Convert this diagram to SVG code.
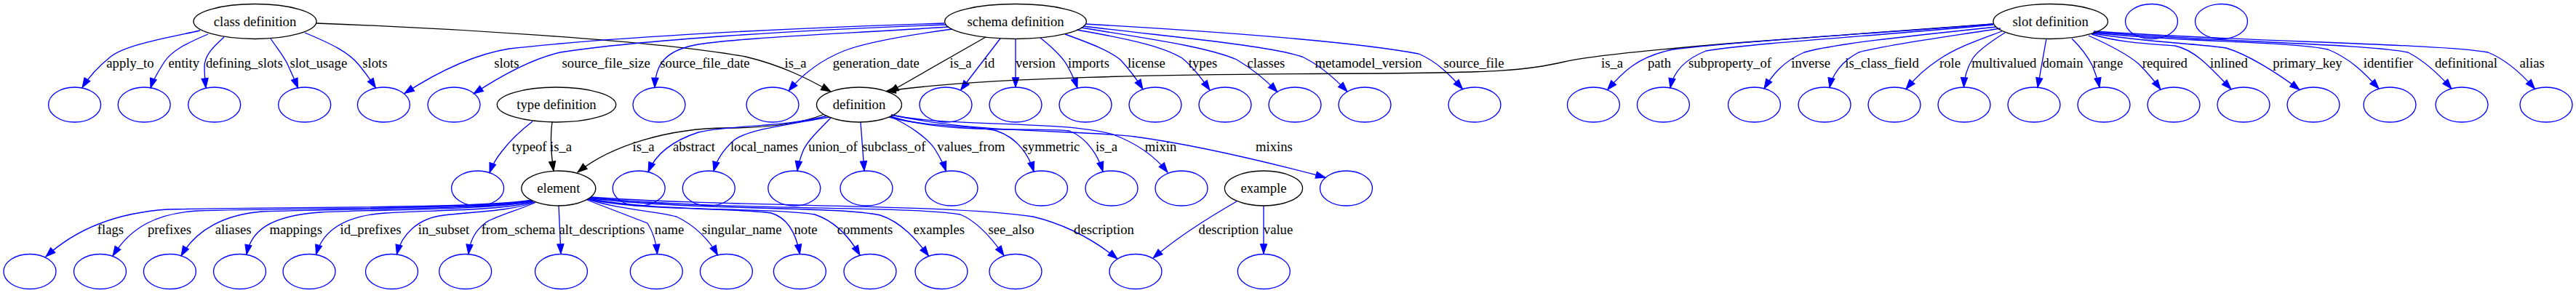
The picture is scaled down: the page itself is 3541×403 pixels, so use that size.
<svg xmlns="http://www.w3.org/2000/svg" width="3541" height="403" viewBox="0 0 3541 403">
<defs>
<marker id="ab" markerUnits="userSpaceOnUse" markerWidth="16" markerHeight="12" refX="13.3" refY="4.67" orient="auto" overflow="visible"><path d="M0,0 L13.3,4.67 L0,9.33 Z" fill="#0000ff" stroke="#0000ff" stroke-width="1"/></marker>
<marker id="ak" markerUnits="userSpaceOnUse" markerWidth="16" markerHeight="12" refX="13.3" refY="4.67" orient="auto" overflow="visible"><path d="M0,0 L13.3,4.67 L0,9.33 Z" fill="#000000" stroke="#000000" stroke-width="1"/></marker>
</defs>
<style>
ellipse{fill:none;stroke-width:1.33}
.blank ellipse{stroke:#0000ff}
.named ellipse{stroke:#000000}
text{font-family:"Liberation Serif","Times New Roman",serif;font-size:18.67px;fill:#000000;text-anchor:middle}
.e path{fill:none;stroke-width:1.33}
.b path{stroke:#0000ff;marker-end:url(#ab)}
.k path{stroke:#000000;marker-end:url(#ak)}
</style>
<rect width="3541" height="403" fill="#ffffff"/>

<g id="connectors">
<!-- class definition -->
<g class="e b"><path d="M275,42 C225,53 172,62 152,78 C136,91 122,106 113,120.5"/><text x="179" y="93">apply_to</text></g>
<g class="e b"><path d="M286,47 C255,60 236,70 226,85 C218,98 211,108 207,121"/><text x="252.8" y="93">entity</text></g>
<g class="e b"><path d="M308,51 C295,63 281,75 281,92 C281,102 282,112 283,121"/><text x="335.8" y="93">defining_slots</text></g>
<g class="e b"><path d="M372,53 C382,68 392,80 396,90 C401,101 406,112 409.5,121"/><text x="437.8" y="93">slot_usage</text></g>
<g class="e b"><path d="M419,45 C455,60 480,72 494,90 C503,101 510,111 516.5,121"/><text x="515.3" y="93">slots</text></g>
<g class="e k"><path d="M435,32 C600,38 900,55 1025,78 C1075,90 1110,108 1142,126"/><text x="1093.5" y="93">is_a</text></g>
<!-- schema definition -->
<g class="e b"><path d="M1298,32 C1100,38 850,50 700,67 C650,75 600,100 556,128.5"/><text x="696.3" y="93">slots</text></g>
<g class="e b"><path d="M1301,34 C1100,41 880,55 770,72 C735,80 695,100 651,129"/><text x="833.2" y="93">source_file_size</text></g>
<g class="e b"><path d="M1304,37 C1150,47 1000,53 955,62 C915,70 901,88 900,120.5"/><text x="969" y="93">source_file_date</text></g>
<g class="e b"><path d="M1309,40 C1250,48 1190,58 1160,70 C1130,82 1105,100 1084,125"/><text x="1204.3" y="93">generation_date</text></g>
<g class="e k"><path d="M1355,51 L1222,127"/><text x="1320.5" y="93">is_a</text></g>
<g class="e b"><path d="M1375,53 L1320.5,124"/><text x="1360" y="93">id</text></g>
<g class="e b"><path d="M1396,53 L1396,120"/><text x="1423.5" y="93">version</text></g>
<g class="e b"><path d="M1430,52 C1450,68 1462,80 1468,92 C1474,103 1478,112 1481,121"/><text x="1496.5" y="93">imports</text></g>
<g class="e b"><path d="M1464,47 C1500,60 1525,70 1540,82 C1552,95 1562,108 1571,122.7"/><text x="1576" y="93">license</text></g>
<g class="e b"><path d="M1480,41 C1560,55 1600,65 1625,80 C1640,92 1652,108 1663,124"/><text x="1653.5" y="93">types</text></g>
<g class="e b"><path d="M1486,38 C1590,55 1660,65 1700,82 C1722,95 1740,110 1756,126.6"/><text x="1740.4" y="93">classes</text></g>
<g class="e b"><path d="M1489,36 C1620,52 1740,62 1790,78 C1815,90 1835,108 1852,126"/><text x="1881" y="93">metamodel_version</text></g>
<g class="e b"><path d="M1492,33 C1650,42 1850,55 1950,74 C1975,84 1995,105 2010.5,122.5"/><text x="2026" y="93">source_file</text></g>
<!-- slot definition -->
<g class="e k"><path d="M2740,33 L2400,58 C2250,70 2180,78 2150,85 C2100,97 2050,100 1900,101 C1600,102 1350,106 1218,125.5"/><text x="2216" y="93">is_a</text></g>
<g class="e b"><path d="M2740,33 C2600,45 2400,55 2300,68 C2250,78 2230,100 2209.5,123.6"/><text x="2281" y="93">path</text></g>
<g class="e b"><path d="M2740,34 C2600,48 2420,58 2345,70 C2315,82 2300,100 2296,121"/><text x="2378" y="93">subproperty_of</text></g>
<g class="e b"><path d="M2744,37 C2640,48 2520,60 2480,72 C2450,85 2435,105 2425,122"/><text x="2489.2" y="93">inverse</text></g>
<g class="e b"><path d="M2750,39 C2680,50 2590,62 2555,72 C2530,85 2518,105 2515,120.5"/><text x="2587.1" y="93">is_class_field</text></g>
<g class="e b"><path d="M2752,43 C2720,55 2690,65 2665,82 C2645,95 2632,108 2620,122.5"/><text x="2680.5" y="93">role</text></g>
<g class="e b"><path d="M2756,45 C2740,55 2720,68 2712,80 C2703,95 2700,108 2699.5,120"/><text x="2754.8" y="93">multivalued</text></g>
<g class="e b"><path d="M2813,53 L2801,120.3"/><text x="2835.5" y="93">domain</text></g>
<g class="e b"><path d="M2848,53 C2860,65 2870,78 2876,90 C2880,100 2884,110 2886,120.3"/><text x="2897.5" y="93">range</text></g>
<g class="e b"><path d="M2871,49 C2900,62 2925,75 2940,88 C2952,100 2962,112 2970,123"/><text x="2975.8" y="93">required</text></g>
<g class="e b"><path d="M2875,47 C2910,58 2950,60 2990,63 C3020,70 3040,95 3067,122.6"/><text x="3064" y="93">inlined</text></g>
<g class="e b"><path d="M2876,46 C2950,58 3020,60 3060,66 C3090,75 3130,100 3161,123.5"/><text x="3172" y="93">primary_key</text></g>
<g class="e b"><path d="M2877,45 C3000,58 3150,57 3200,68 C3230,80 3250,100 3270,122"/><text x="3283" y="93">identifier</text></g>
<g class="e b"><path d="M2878,44 C3050,58 3250,60 3310,72 C3335,85 3355,105 3370,122"/><text x="3390" y="93">definitional</text></g>
<g class="e b"><path d="M2878,43 C3100,58 3350,60 3420,72 C3445,82 3465,100 3484.5,122.3"/><text x="3480.6" y="93">alias</text></g>
<!-- type definition -->
<g class="e b"><path d="M732,167 C715,180 700,195 690,208 C682,218 677,226 673,237.5"/><text x="727.7" y="208">typeof</text></g>
<g class="e k"><path d="M759,168 C756,190 758,215 761,235.3"/><text x="771" y="208">is_a</text></g>
<!-- definition -->
<g class="e k"><path d="M1132,157.5 C1100,170 1060,176 1000,176 C920,176 840,200 794,237"/><text x="884.6" y="208">is_a</text></g>
<g class="e b"><path d="M1136,159.5 C1080,175 1000,172 960,182 C920,195 900,215 891,236.5"/><text x="954" y="208">abstract</text></g>
<g class="e b"><path d="M1140,161 C1080,172 1030,178 1010,192 C995,205 985,220 981,235.6"/><text x="1050.5" y="208">local_names</text></g>
<g class="e b"><path d="M1142,162 C1125,180 1108,195 1103,210 C1099,220 1097,228 1096,235"/><text x="1145" y="208">union_of</text></g>
<g class="e b"><path d="M1183,168 L1188,235"/><text x="1228.9" y="208">subclass_of</text></g>
<g class="e b"><path d="M1223,160 C1250,172 1275,190 1285,205 C1293,218 1298,228 1300.5,235.5"/><text x="1335" y="208">values_from</text></g>
<g class="e b"><path d="M1222,161 C1270,175 1340,172 1370,180 C1400,190 1415,215 1421,236"/><text x="1445" y="208">symmetric</text></g>
<g class="e b"><path d="M1224,160 C1300,185 1420,175 1470,180 C1495,190 1510,215 1516,236"/><text x="1521" y="208">is_a</text></g>
<g class="e b"><path d="M1225,158 C1300,175 1460,165 1530,185 C1565,198 1590,218 1605,237"/><text x="1595.5" y="208">mixin</text></g>
<g class="e b"><path d="M1225,158 C1350,185 1480,178 1560,188 C1650,200 1750,225 1822,244"/><text x="1751.4" y="208">mixins</text></g>
<!-- element -->
<g class="e b"><path d="M729,275.5 C650,287 400,284 230,288 C170,292 110,310 63,353"/><text x="152" y="322">flags</text></g>
<g class="e b"><path d="M730,276 C650,288 420,286 270,290 C215,294 180,312 155,352"/><text x="233" y="322">prefixes</text></g>
<g class="e b"><path d="M731,276.5 C660,289 470,287 360,291 C310,295 270,315 249,352"/><text x="320.6" y="322">aliases</text></g>
<g class="e b"><path d="M732,277 C670,289 520,288 440,292 C370,297 345,318 339,350"/><text x="406.7" y="322">mappings</text></g>
<g class="e b"><path d="M733,277.5 C690,290 590,289 530,293 C470,297 443,320 434.5,350"/><text x="509.5" y="322">id_prefixes</text></g>
<g class="e b"><path d="M735,278 C700,291 650,291 610,296 C575,300 552,322 545.5,350"/><text x="610" y="322">in_subset</text></g>
<g class="e b"><path d="M736,278.5 C710,290 680,298 668,306 C652,318 646,332 644,349.5"/><text x="712.4" y="322">from_schema</text></g>
<g class="e b"><path d="M768,283 L771,349"/><text x="827.5" y="322">alt_descriptions</text></g>
<g class="e b"><path d="M807,275 L890,307 C897,318 902,332 903.5,349.5"/><text x="920" y="322">name</text></g>
<g class="e b"><path d="M808,274 C850,288 900,290 930,298 C955,310 975,330 986.5,351"/><text x="1019.7" y="322">singular_name</text></g>
<g class="e b"><path d="M809,274 C880,290 1000,285 1060,293 C1085,300 1095,325 1099.5,349.5"/><text x="1107.6" y="322">note</text></g>
<g class="e b"><path d="M810,273 C900,292 1060,285 1120,295 C1150,305 1170,330 1182,351"/><text x="1189" y="322">comments</text></g>
<g class="e b"><path d="M811,272.5 C950,290 1150,283 1210,296 C1240,306 1260,330 1276.5,352"/><text x="1290.8" y="322">examples</text></g>
<g class="e b"><path d="M812,272 C1000,290 1250,283 1320,295 C1345,305 1365,330 1380,351.5"/><text x="1390" y="322">see_also</text></g>
<g class="e b"><path d="M812,271 C1000,285 1300,280 1420,298 C1470,310 1510,335 1536,356"/><text x="1517.5" y="322">description</text></g>
<!-- example -->
<g class="e b"><path d="M1700,277 C1660,300 1620,325 1585,355"/><text x="1689" y="322">description</text></g>
<g class="e b"><path d="M1737,283 L1737,349"/><text x="1757" y="322">value</text></g>
</g>

<!-- named nodes -->
<g id="class_definition" class="named"><ellipse cx="350.5" cy="29.5" rx="84.5" ry="24"/><text x="350.5" y="35.5">class definition</text></g>
<g id="schema_definition" class="named"><ellipse cx="1396" cy="29.5" rx="97.4" ry="24"/><text x="1396" y="35.5">schema definition</text></g>
<g id="slot_definition" class="named"><ellipse cx="2818.7" cy="29.5" rx="78.8" ry="24"/><text x="2818.7" y="35.5">slot definition</text></g>
<g id="type_definition" class="named"><ellipse cx="765" cy="144" rx="81.7" ry="24"/><text x="765" y="150">type definition</text></g>
<g id="definition" class="named"><ellipse cx="1181" cy="144" rx="58.5" ry="24"/><text x="1181" y="150">definition</text></g>
<g id="element" class="named"><ellipse cx="767.8" cy="259" rx="51" ry="24"/><text x="767.8" y="265">element</text></g>
<g id="example" class="named"><ellipse cx="1737" cy="259" rx="53.6" ry="24"/><text x="1737" y="265">example</text></g>

<!-- blank nodes rank 0 -->
<g id="n_top_1" class="blank"><ellipse cx="2957.5" cy="29.5" rx="36" ry="24"/></g>
<g id="n_top_2" class="blank"><ellipse cx="3053.5" cy="29.5" rx="36" ry="24"/></g>
<!-- blank nodes rank 1 -->
<g id="n_apply_to" class="blank"><ellipse cx="102.6" cy="144" rx="36" ry="24"/></g>
<g id="n_entity" class="blank"><ellipse cx="198.2" cy="144" rx="36" ry="24"/></g>
<g id="n_defining_slots" class="blank"><ellipse cx="294.7" cy="144" rx="36" ry="24"/></g>
<g id="n_slot_usage" class="blank"><ellipse cx="418.7" cy="144" rx="36" ry="24"/></g>
<g id="n_slots" class="blank"><ellipse cx="527.4" cy="144" rx="36" ry="24"/></g>
<g id="n_source_file_size" class="blank"><ellipse cx="624" cy="144" rx="36" ry="24"/></g>
<g id="n_source_file_date" class="blank"><ellipse cx="906" cy="144" rx="36" ry="24"/></g>
<g id="n_generation_date" class="blank"><ellipse cx="1062" cy="144" rx="36" ry="24"/></g>
<g id="n_id" class="blank"><ellipse cx="1300" cy="144" rx="36" ry="24"/></g>
<g id="n_version" class="blank"><ellipse cx="1396" cy="144" rx="36" ry="24"/></g>
<g id="n_imports" class="blank"><ellipse cx="1492" cy="144" rx="36" ry="24"/></g>
<g id="n_license" class="blank"><ellipse cx="1588" cy="144" rx="36" ry="24"/></g>
<g id="n_types" class="blank"><ellipse cx="1684" cy="144" rx="36" ry="24"/></g>
<g id="n_classes" class="blank"><ellipse cx="1780" cy="144" rx="36" ry="24"/></g>
<g id="n_metamodel_version" class="blank"><ellipse cx="1876" cy="144" rx="36" ry="24"/></g>
<g id="n_source_file" class="blank"><ellipse cx="2027" cy="144" rx="36" ry="24"/></g>
<g id="n_path" class="blank"><ellipse cx="2190.4" cy="144" rx="36" ry="24"/></g>
<g id="n_subproperty_of" class="blank"><ellipse cx="2286.4" cy="144" rx="36" ry="24"/></g>
<g id="n_inverse" class="blank"><ellipse cx="2411.5" cy="144" rx="36" ry="24"/></g>
<g id="n_is_class_field" class="blank"><ellipse cx="2508" cy="144" rx="36" ry="24"/></g>
<g id="n_role" class="blank"><ellipse cx="2604" cy="144" rx="36" ry="24"/></g>
<g id="n_multivalued" class="blank"><ellipse cx="2700" cy="144" rx="36" ry="24"/></g>
<g id="n_domain" class="blank"><ellipse cx="2796" cy="144" rx="36" ry="24"/></g>
<g id="n_range" class="blank"><ellipse cx="2892" cy="144" rx="36" ry="24"/></g>
<g id="n_required" class="blank"><ellipse cx="2988" cy="144" rx="36" ry="24"/></g>
<g id="n_inlined" class="blank"><ellipse cx="3084" cy="144" rx="36" ry="24"/></g>
<g id="n_primary_key" class="blank"><ellipse cx="3180" cy="144" rx="36" ry="24"/></g>
<g id="n_identifier" class="blank"><ellipse cx="3285" cy="144" rx="36" ry="24"/></g>
<g id="n_definitional" class="blank"><ellipse cx="3384" cy="144" rx="36" ry="24"/></g>
<g id="n_alias" class="blank"><ellipse cx="3500" cy="144" rx="36" ry="24"/></g>
<!-- blank nodes rank 2 -->
<g id="n_typeof" class="blank"><ellipse cx="656.6" cy="259" rx="36" ry="24"/></g>
<g id="n_abstract" class="blank"><ellipse cx="878.2" cy="259" rx="36" ry="24"/></g>
<g id="n_local_names" class="blank"><ellipse cx="974.3" cy="259" rx="36" ry="24"/></g>
<g id="n_union_of" class="blank"><ellipse cx="1091.8" cy="259" rx="36" ry="24"/></g>
<g id="n_subclass_of" class="blank"><ellipse cx="1191" cy="259" rx="36" ry="24"/></g>
<g id="n_values_from" class="blank"><ellipse cx="1308" cy="259" rx="36" ry="24"/></g>
<g id="n_symmetric" class="blank"><ellipse cx="1431.5" cy="259" rx="36" ry="24"/></g>
<g id="n_def_is_a" class="blank"><ellipse cx="1528" cy="259" rx="36" ry="24"/></g>
<g id="n_mixin" class="blank"><ellipse cx="1624" cy="259" rx="36" ry="24"/></g>
<g id="n_mixins" class="blank"><ellipse cx="1850.5" cy="259" rx="36" ry="24"/></g>
<!-- blank nodes rank 3 -->
<g id="n_flags" class="blank"><ellipse cx="41" cy="373.5" rx="36" ry="24"/></g>
<g id="n_prefixes" class="blank"><ellipse cx="137.5" cy="373.5" rx="36" ry="24"/></g>
<g id="n_aliases" class="blank"><ellipse cx="233.4" cy="373.5" rx="36" ry="24"/></g>
<g id="n_mappings" class="blank"><ellipse cx="329.5" cy="373.5" rx="36" ry="24"/></g>
<g id="n_id_prefixes" class="blank"><ellipse cx="425" cy="373.5" rx="36" ry="24"/></g>
<g id="n_in_subset" class="blank"><ellipse cx="538.5" cy="373.5" rx="36" ry="24"/></g>
<g id="n_from_schema" class="blank"><ellipse cx="639.7" cy="373.5" rx="36" ry="24"/></g>
<g id="n_alt_descriptions" class="blank"><ellipse cx="771.5" cy="373.5" rx="36" ry="24"/></g>
<g id="n_name" class="blank"><ellipse cx="902.3" cy="373.5" rx="36" ry="24"/></g>
<g id="n_singular_name" class="blank"><ellipse cx="998.4" cy="373.5" rx="36" ry="24"/></g>
<g id="n_note" class="blank"><ellipse cx="1099.4" cy="373.5" rx="36" ry="24"/></g>
<g id="n_comments" class="blank"><ellipse cx="1196" cy="373.5" rx="36" ry="24"/></g>
<g id="n_examples" class="blank"><ellipse cx="1294" cy="373.5" rx="36" ry="24"/></g>
<g id="n_see_also" class="blank"><ellipse cx="1396" cy="373.5" rx="36" ry="24"/></g>
<g id="n_description" class="blank"><ellipse cx="1561" cy="373.5" rx="36" ry="24"/></g>
<g id="n_value" class="blank"><ellipse cx="1737.3" cy="373.5" rx="36" ry="24"/></g>
</svg>
